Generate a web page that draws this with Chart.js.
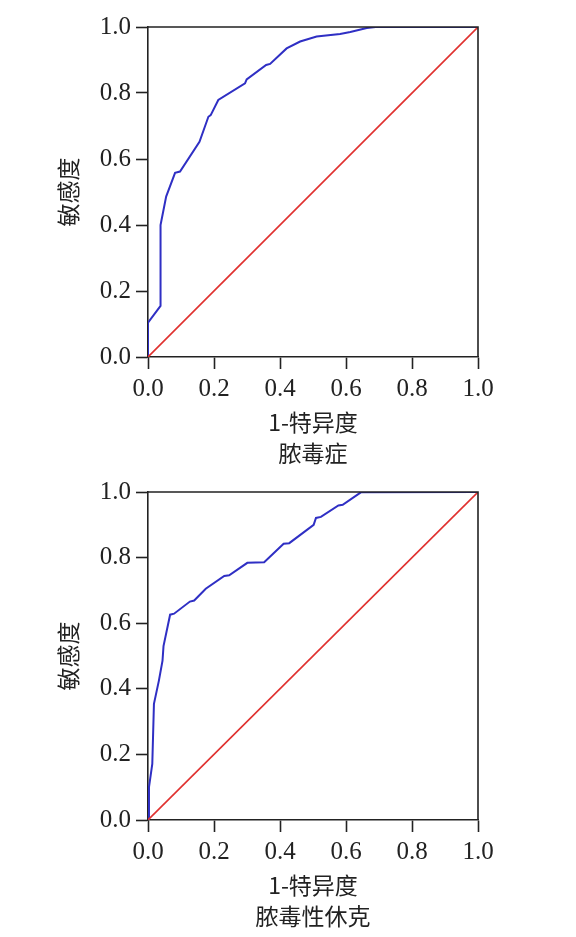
<!DOCTYPE html>
<html lang="zh">

<head>
    <meta charset="UTF-8">
    <title>ROC 曲线</title>
    <script src="https://cdn.jsdelivr.net/npm/chart.js"></script>
    <style>
        body { margin: 0; background: #fff; width: 576px; height: 937px; position: relative; overflow: hidden; }
        canvas { position: absolute; left: 0; }
    </style>
</head>

<body>
    <canvas id="rocSepsis" width="576" height="470" style="top:0"></canvas>
    <canvas id="rocShock" width="576" height="468" style="top:465px"></canvas>
    <script>
        // 脓毒症 ROC (1-特异度, 敏感度)
        const sepsisX = [0, 0, 0.038, 0.038, 0.041, 0.055, 0.082, 0.097, 0.156, 0.183, 0.19, 0.213, 0.294, 0.299, 0.358, 0.37, 0.42, 0.461, 0.511, 0.582, 0.613, 0.663, 0.69, 1.0];
        const sepsisY = [0, 0.104, 0.155, 0.40, 0.415, 0.486, 0.558, 0.562, 0.652, 0.728, 0.733, 0.779, 0.829, 0.841, 0.885, 0.888, 0.935, 0.956, 0.971, 0.979, 0.985, 0.997, 1.0, 1.0];

        // 脓毒性休克 ROC
        const shockX = [0, 0.003, 0.013, 0.018, 0.033, 0.044, 0.047, 0.067, 0.079, 0.127, 0.14, 0.175, 0.231, 0.246, 0.301, 0.352, 0.411, 0.428, 0.502, 0.509, 0.524, 0.577, 0.59, 0.645, 1.0];
        const shockY = [0, 0.10, 0.171, 0.354, 0.425, 0.486, 0.53, 0.626, 0.629, 0.666, 0.669, 0.705, 0.744, 0.746, 0.784, 0.786, 0.842, 0.844, 0.90, 0.921, 0.924, 0.959, 0.961, 0.999, 1.0];

        // reference line
        const diagX = [0, 1];
        const diagY = [0, 1];

        const tickValues = [0, 0.2, 0.4, 0.6, 0.8, 1.0];
        const xTitle = '1-特异度';
        const yTitle = '敏感度';

        const numFont = { family: '"Liberation Serif", "DejaVu Serif", serif', size: 25 };
        const cjkFont = { family: '"Noto Sans CJK SC", sans-serif', size: 23, lineHeight: 1.35 };

        function toPoints(xs, ys) {
            return xs.map((x, i) => ({ x: x, y: ys[i] }));
        }

        // closes the frame on top and right
        const frame = {
            id: 'frame',
            afterDraw(chart) {
                const { ctx, chartArea: a } = chart;
                ctx.save();
                ctx.strokeStyle = '#222';
                ctx.lineWidth = 1.6;
                ctx.beginPath();
                ctx.moveTo(a.left, a.top);
                ctx.lineTo(a.right, a.top);
                ctx.lineTo(a.right, a.bottom);
                ctx.stroke();
                ctx.restore();
            }
        };

        function makeRoc(id, xs, ys, name, padTop) {
            const ctx = document.getElementById(id).getContext('2d');
            return new Chart(ctx, {
                type: 'scatter',
                data: {
                    datasets: [{
                        data: toPoints(diagX, diagY),
                        showLine: true,
                        borderColor: '#e0312f',
                        borderWidth: 1.6,
                        pointRadius: 0,
                        tension: 0
                    }, {
                        data: toPoints(xs, ys),
                        showLine: true,
                        borderColor: '#2f2fc4',
                        borderWidth: 2,
                        pointRadius: 0,
                        tension: 0
                    }]
                },
                options: {
                    responsive: false,
                    animation: false,
                    layout: { padding: { top: padTop, right: 98, left: 0, bottom: 0 } },
                    plugins: { legend: { display: false }, tooltip: { enabled: false } },
                    scales: {
                        x: {
                            type: 'linear',
                            min: 0,
                            max: 1,
                            afterFit: s => { s.height = 113; },
                            afterBuildTicks: s => { s.ticks = tickValues.map(v => ({ value: v })); },
                            ticks: { color: '#222', font: numFont, padding: 5, callback: v => v.toFixed(1), maxRotation: 0 },
                            grid: { drawOnChartArea: false, tickLength: 12, tickColor: '#222', tickWidth: 1.6 },
                            border: { color: '#222', width: 1.6 },
                            title: { display: true, text: [xTitle, name], color: '#222', font: cjkFont, padding: { top: 0, bottom: 1 } }
                        },
                        y: {
                            type: 'linear',
                            min: 0,
                            max: 1,
                            afterFit: s => { s.width = 148; },
                            afterBuildTicks: s => { s.ticks = tickValues.map(v => ({ value: v })); },
                            ticks: { color: '#222', font: numFont, padding: 5, callback: v => v.toFixed(1) },
                            grid: { drawOnChartArea: false, tickLength: 12, tickColor: '#222', tickWidth: 1.6 },
                            border: { color: '#222', width: 1.6 },
                            title: { display: true, text: yTitle, color: '#222', font: { family: cjkFont.family, size: 23, lineHeight: 1.2 }, padding: { top: 54, bottom: 0 } }
                        }
                    }
                },
                plugins: [frame]
            });
        }

        makeRoc('rocSepsis', sepsisX, sepsisY, '脓毒症', 27);
        makeRoc('rocShock', shockX, shockY, '脓毒性休克', 27);
    </script>
</body>

</html>
